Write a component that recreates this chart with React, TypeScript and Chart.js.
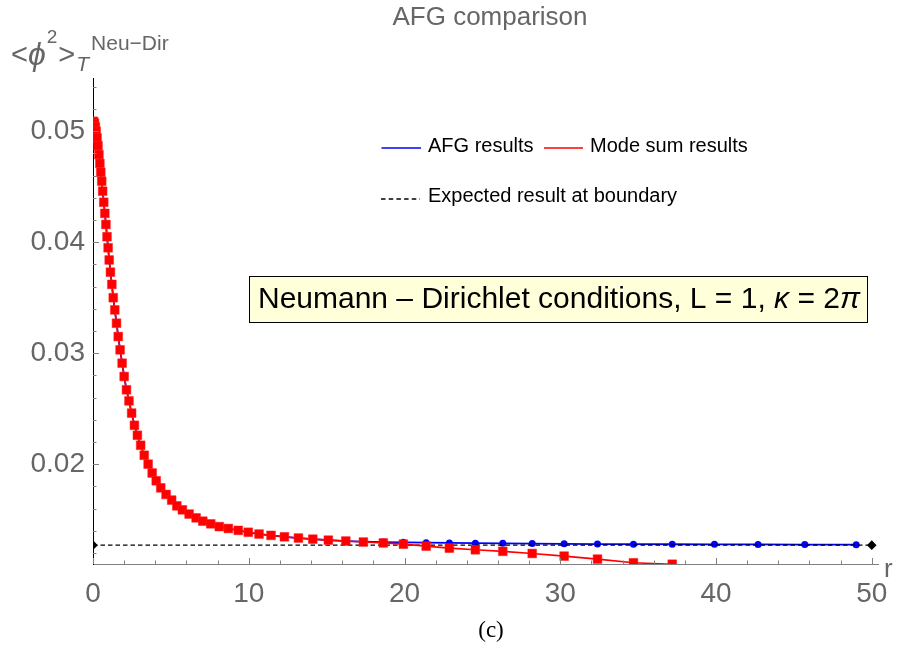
import React, { useEffect, useRef } from "react";
import { Chart, registerables } from "chart.js";

Chart.register(...registerables);

// ---- data ----
const sampleR = [
  0, 0.05, 0.1, 0.15, 0.2, 0.26, 0.32, 0.38, 0.44, 0.5, 0.56, 0.62, 0.69, 0.76,
  0.83, 0.9, 0.97, 1.04, 1.12, 1.21, 1.3, 1.4, 1.51, 1.62, 1.74, 1.87, 2.0,
  2.15, 2.31, 2.48, 2.66, 2.85, 3.06, 3.29, 3.54, 3.8, 4.06, 4.35, 4.69, 5.05,
  5.38, 5.74, 6.17, 6.62, 7.05, 7.56, 8.11, 8.69, 9.33, 9.97, 10.66, 11.43,
  12.29, 13.19, 14.11, 15.11, 16.23, 17.36, 18.64, 19.93, 21.39, 22.88, 24.55,
  26.31, 28.2, 30.25, 32.39, 34.7, 37.19, 39.9, 42.7, 45.7, 49.0,
];

const afgValues = [
  0.0509, 0.05085, 0.0507, 0.0504, 0.05, 0.0494, 0.0487, 0.0479, 0.0471,
  0.0463, 0.0455, 0.0446, 0.0436, 0.0426, 0.0416, 0.0405, 0.0395, 0.0384,
  0.0373, 0.0362, 0.035, 0.0339, 0.0327, 0.0315, 0.0303, 0.0291, 0.0279,
  0.0267, 0.0257, 0.0246, 0.0235, 0.0226, 0.0217, 0.0208, 0.02, 0.0192,
  0.0185, 0.01786, 0.01727, 0.01676, 0.01624, 0.01588, 0.0155, 0.01516,
  0.01486, 0.01462, 0.01437, 0.0142, 0.01403, 0.01386, 0.0137, 0.01358,
  0.01345, 0.01334, 0.01324, 0.01315, 0.01307, 0.01302, 0.01298, 0.01295,
  0.01292, 0.0129, 0.01288, 0.01286, 0.01284, 0.01282, 0.0128, 0.01279,
  0.01278, 0.01277, 0.01276, 0.01275, 0.01274,
];

const modeSumValues = [
  0.0509, 0.05085, 0.0507, 0.0504, 0.05, 0.0494, 0.0487, 0.0479, 0.0471,
  0.0463, 0.0455, 0.0446, 0.0436, 0.0426, 0.0416, 0.0405, 0.0395, 0.0384,
  0.0373, 0.0362, 0.035, 0.0339, 0.0327, 0.0315, 0.0303, 0.0291, 0.0279,
  0.0267, 0.0257, 0.0246, 0.0235, 0.0226, 0.0217, 0.0208, 0.02, 0.0192,
  0.0185, 0.01786, 0.01727, 0.01676, 0.01624, 0.01588, 0.0155, 0.01516,
  0.01486, 0.01462, 0.01437, 0.0142, 0.01403, 0.01386, 0.0137, 0.01358,
  0.01345, 0.01334, 0.01324, 0.01315, 0.01307, 0.01298, 0.0129, 0.01279,
  0.01261, 0.01243, 0.01228, 0.01214, 0.01195, 0.01171, 0.01144, 0.01111,
  0.01098,
];

const boundaryR = [0, 50];
const boundaryValue = 0.0127;

const xTickValues = [0, 10, 20, 30, 40, 50];
const yTickValues = [0.02, 0.03, 0.04, 0.05];
const xMinorStep = 2;
const yMinorStep = 0.002;

const X_MIN = 0;
const X_MAX = 50.4;
const Y_MIN = 0.011;
const Y_MAX = 0.0548;

const SANS = "'Liberation Sans', Arial, sans-serif";
const GRAY = "#666666";

const overlayPlugin = {
  id: "overlay",
  afterDraw(chart: any) {
    const ctx: CanvasRenderingContext2D = chart.ctx;
    const { left, bottom } = chart.chartArea;
    const xs = chart.scales.x;
    const ys = chart.scales.y;
    ctx.save();

    // inward ticks
    ctx.strokeStyle = "#808080";
    ctx.lineWidth = 1;
    ctx.beginPath();
    for (let v = X_MIN; v <= 50 + 1e-9; v += xMinorStep) {
      const px = Math.round(xs.getPixelForValue(v)) + 0.5;
      const major = xTickValues.some((t) => Math.abs(t - v) < 1e-6);
      ctx.moveTo(px, bottom);
      ctx.lineTo(px, bottom - (major ? 6 : 3.5));
    }
    for (let k = Math.ceil(Y_MIN / yMinorStep); k * yMinorStep <= Y_MAX; k++) {
      const v = k * yMinorStep;
      const py = Math.round(ys.getPixelForValue(v)) + 0.5;
      const major = yTickValues.some((t) => Math.abs(t - v) < 1e-7);
      ctx.moveTo(left, py);
      ctx.lineTo(left + (major ? 6 : 3.5), py);
    }
    ctx.stroke();

    // title
    ctx.fillStyle = GRAY;
    ctx.font = `26px ${SANS}`;
    ctx.textAlign = "center";
    ctx.textBaseline = "middle";
    ctx.fillText("AFG comparison", 490, 18);

    // y axis label  <ϕ²>_T^Neu−Dir
    ctx.textAlign = "left";
    ctx.textBaseline = "alphabetic";
    let cx = 11;
    ctx.font = `29px ${SANS}`;
    ctx.fillText("<", cx, 64);
    cx += ctx.measureText("<").width;
    ctx.font = `italic 32px ${SANS}`;
    ctx.fillText("ϕ", cx, 65);
    cx += ctx.measureText("ϕ").width + 1;
    ctx.font = `19px ${SANS}`;
    ctx.fillText("2", cx, 43);
    cx += ctx.measureText("2").width + 1;
    ctx.font = `29px ${SANS}`;
    ctx.fillText(">", cx, 64);
    cx += ctx.measureText(">").width + 1;
    ctx.font = `italic 21px ${SANS}`;
    ctx.fillText("T", cx, 71);
    cx += ctx.measureText("T").width + 2;
    ctx.font = `21px ${SANS}`;
    ctx.fillText("Neu\u2212Dir", cx, 50);

    // x axis label
    ctx.font = `26px ${SANS}`;
    ctx.fillText("r", 884, 577);

    // legend
    ctx.lineWidth = 1.5;
    ctx.strokeStyle = "#0000ff";
    ctx.beginPath();
    ctx.moveTo(381.5, 148);
    ctx.lineTo(421, 148);
    ctx.stroke();
    ctx.strokeStyle = "#ff0000";
    ctx.beginPath();
    ctx.moveTo(544, 148);
    ctx.lineTo(583, 148);
    ctx.stroke();
    ctx.strokeStyle = "#000000";
    ctx.lineWidth = 1.4;
    ctx.setLineDash([4.5, 3.2]);
    ctx.beginPath();
    ctx.moveTo(381, 199);
    ctx.lineTo(420, 199);
    ctx.stroke();
    ctx.setLineDash([]);

    ctx.fillStyle = "#000000";
    ctx.font = `20px ${SANS}`;
    ctx.textBaseline = "middle";
    ctx.fillText("AFG results", 428, 146);
    ctx.fillText("Mode sum results", 590, 146);
    ctx.fillText("Expected result at boundary", 428, 196);

    // annotation box
    ctx.fillStyle = "#ffffd9";
    ctx.fillRect(249.5, 276.5, 618, 46);
    ctx.strokeStyle = "#000000";
    ctx.lineWidth = 1;
    ctx.strokeRect(249.5, 276.5, 618, 46);
    ctx.fillStyle = "#000000";
    const boxText = "Neumann \u2013 Dirichlet conditions, L = 1, ";
    ctx.font = `30px ${SANS}`;
    const w1 = ctx.measureText(boxText).width;
    ctx.font = `italic 30px ${SANS}`;
    const wk = ctx.measureText("\u03ba").width;
    ctx.font = `30px ${SANS}`;
    const w2 = ctx.measureText(" = 2").width;
    ctx.font = `italic 30px ${SANS}`;
    const wp = ctx.measureText("\u03c0").width;
    const total = w1 + wk + w2 + wp;
    let tx = 559 - total / 2;
    ctx.textAlign = "left";
    ctx.font = `30px ${SANS}`;
    ctx.fillText(boxText, tx, 300);
    tx += w1;
    ctx.font = `italic 30px ${SANS}`;
    ctx.fillText("\u03ba", tx, 300);
    tx += wk;
    ctx.font = `30px ${SANS}`;
    ctx.fillText(" = 2", tx, 300);
    tx += w2;
    ctx.font = `italic 30px ${SANS}`;
    ctx.fillText("\u03c0", tx, 300);

    // caption
    ctx.font = `23px 'Liberation Serif', 'DejaVu Serif', serif`;
    ctx.textAlign = "center";
    ctx.fillText("(c)", 491, 631);

    ctx.restore();
  },
};

export default function App() {
  const ref = useRef<HTMLCanvasElement>(null);

  useEffect(() => {
    if (!ref.current) return;
    const afgData = sampleR.map((r, i) => ({ x: r, y: afgValues[i] }));
    const modeData = modeSumValues.map((v, i) => ({ x: sampleR[i], y: v }));
    const boundaryData = boundaryR.map((r) => ({ x: r, y: boundaryValue }));

    const chart = new Chart(ref.current, {
      type: "line",
      data: {
        datasets: [
          {
            label: "Mode sum results",
            data: modeData,
            borderColor: "#ff0000",
            backgroundColor: "#ff0000",
            borderWidth: 1.6,
            pointStyle: "rect",
            pointRadius: 6.2,
            pointBorderWidth: 0.5,
            pointBorderColor: "#ff2020",
            pointBackgroundColor: "#ff0000",
            tension: 0,
          },
          {
            label: "Expected result at boundary",
            data: boundaryData,
            borderColor: "#000000",
            backgroundColor: "#000000",
            borderWidth: 1.4,
            borderDash: [4.5, 3],
            pointStyle: "rectRot",
            pointRadius: 3.8,
            pointBackgroundColor: "#000000",
            pointBorderColor: "#000000",
            tension: 0,
          },
          {
            label: "AFG results",
            data: afgData,
            borderColor: "#0000ff",
            backgroundColor: "#0000ff",
            borderWidth: 1.8,
            pointStyle: "circle",
            pointRadius: 3.5,
            pointBorderWidth: 0,
            pointBackgroundColor: "#0000ff",
            tension: 0,
          },
        ],
      },
      options: {
        responsive: false,
        animation: false,
        devicePixelRatio: 1,
        layout: { padding: { left: 0, top: 78, right: 20, bottom: 47 } },
        plugins: {
          legend: { display: false },
          title: { display: false },
          tooltip: { enabled: false },
        },
        scales: {
          x: {
            type: "linear",
            min: X_MIN,
            max: X_MAX,
            afterBuildTicks: (s: any) => {
              s.ticks = xTickValues.map((v) => ({ value: v }));
            },
            afterFit: (s: any) => {
              s.height = 40;
            },
            grid: { display: false, drawTicks: false },
            border: { display: true, color: "#808080", width: 1 },
            ticks: {
              padding: 8,
              color: GRAY,
              font: { family: SANS, size: 28, lineHeight: 1.6 },
              maxRotation: 0,
              autoSkip: false,
              callback: (v: any) => String(v),
            },
          },
          y: {
            type: "linear",
            min: Y_MIN,
            max: Y_MAX,
            afterBuildTicks: (s: any) => {
              s.ticks = yTickValues.map((v) => ({ value: v }));
            },
            afterFit: (s: any) => {
              s.width = 93;
            },
            grid: { display: false, drawTicks: false },
            border: { display: true, color: "#000000", width: 1 },
            ticks: {
              padding: 8,
              color: GRAY,
              font: { family: SANS, size: 28 },
              autoSkip: false,
              callback: (v: any) => Number(v).toFixed(2),
            },
          },
        },
      },
      plugins: [overlayPlugin],
    });
    return () => chart.destroy();
  }, []);

  return (
    <div
      style={{
        position: "fixed",
        left: 0,
        top: 0,
        width: 898,
        height: 651,
        background: "#ffffff",
      }}
    >
      <canvas ref={ref} width={898} height={651} style={{ display: "block" }} />
    </div>
  );
}
